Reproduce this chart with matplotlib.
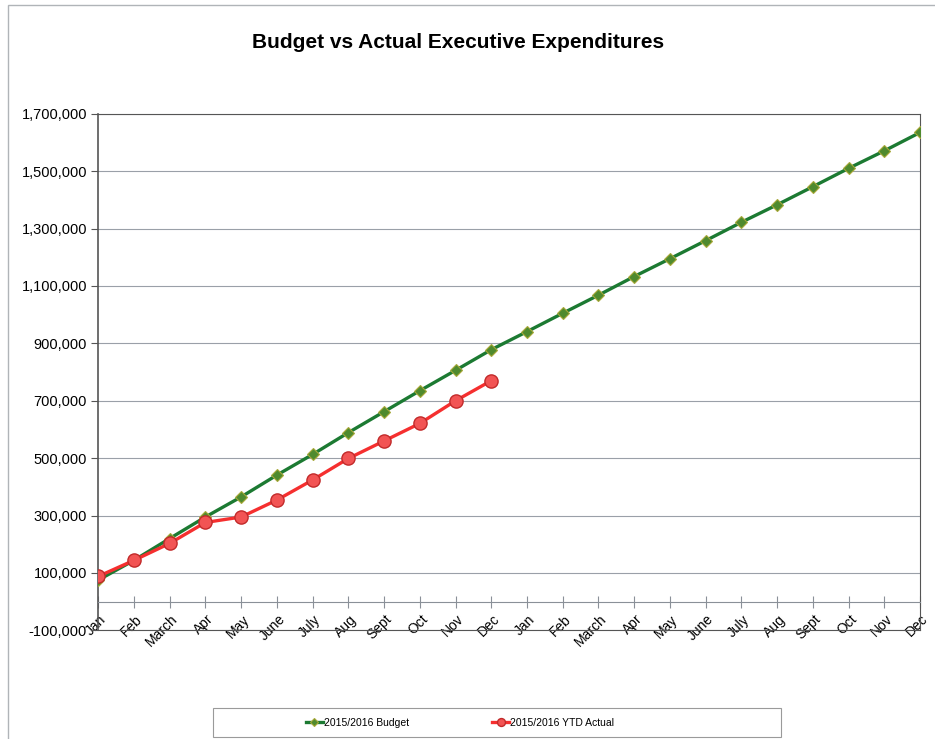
import numpy as np
import matplotlib.pyplot as plt
from matplotlib.patches import Rectangle
from matplotlib.transforms import ScaledTranslation

plt.rcParams['font.family'] = ['Liberation Sans', 'DejaVu Sans']

# data
months = ['Jan', 'Feb', 'March', 'Apr', 'May', 'June', 'July', 'Aug', 'Sept', 'Oct', 'Nov', 'Dec',
          'Jan', 'Feb', 'March', 'Apr', 'May', 'June', 'July', 'Aug', 'Sept', 'Oct', 'Nov', 'Dec']
budget = [75000, 144000, 220000, 295000, 365000, 441000, 513000, 589000, 662000, 735000, 806000, 878000,
          941000, 1005000, 1068000, 1133000, 1195000, 1258000, 1322000, 1383000, 1446000, 1510000, 1571000, 1635000]
actual = [88000, 144000, 203000, 276000, 295000, 354000, 424000, 499000, 560000, 621000, 700000, 770000]
yticks = list(range(-100000, 1700001, 200000))

x = np.arange(len(months))

fig = plt.figure(figsize=(9.35, 7.39), dpi=100)
ax = fig.add_axes([0.105, 0.147, 0.879, 0.699])

ax.plot(x, budget, color='#1c7a32', lw=2.4, marker='D', ms=6.5,
        mfc='#4f8a2e', mec='#a8a838', mew=0.8, label='2015/2016 Budget', zorder=3)
ax.plot(x[:len(actual)], actual, color='#f52f2f', lw=2.4, marker='o', ms=9.5,
        mfc='#f25454', mec='#c22a2a', mew=1.0, label='2015/2016 YTD Actual', zorder=4)

ax.set_xlim(0, len(months) - 1)
ax.set_ylim(-100000, 1700000)
ax.set_yticks(yticks)
ax.set_yticklabels([f'{v:,}' for v in yticks], fontsize=10.5)
ax.tick_params(axis='y', length=5, color='#555555', pad=3)
ax.yaxis.grid(True, color='#9aa0a8', lw=0.8)
ax.set_axisbelow(True)

# category axis crossing at zero
ax.spines['bottom'].set_position(('data', 0))
ax.spines['bottom'].set_color('#8a9098')
ax.set_xticks(x)
ax.tick_params(axis='x', direction='inout', length=8, color='#8a9098', labelbottom=False)
for s in ['top', 'right', 'left']:
    ax.spines[s].set_color('#555555')
ax.spines['left'].set_linewidth(1.2)

sec = ax.secondary_xaxis(0.0)
sec.set_xticks(x)
sec.set_xticklabels(months, rotation=45, ha='right', rotation_mode='anchor', fontsize=10)
sec.tick_params(length=0, pad=2)
sec.spines['bottom'].set_color('#555555')
for lbl in sec.get_xticklabels():
    lbl.set_transform(lbl.get_transform() + ScaledTranslation(0.01, 0.21, fig.dpi_scale_trans))

fig.text(0.49, 0.942, 'Budget vs Actual Executive Expenditures', ha='center', va='center',
         fontsize=15, fontweight='bold')

fig.legend(loc='center', bbox_to_anchor=(0.492, 0.022), ncol=2,
           fontsize=7.5, frameon=False, handlelength=1.6, handletextpad=0.1,
           columnspacing=8, markerscale=0.6)
fig.patches.append(Rectangle((0.228, 0.003), 0.607, 0.039, transform=fig.transFigure,
                             fill=False, edgecolor='#9a9a9a', lw=0.8))

fig.patches.append(Rectangle((0.009, -0.01), 1.0, 1.003, transform=fig.transFigure,
                             fill=False, edgecolor='#b0b4b8', lw=1))

fig.savefig('out.png', dpi=100)
